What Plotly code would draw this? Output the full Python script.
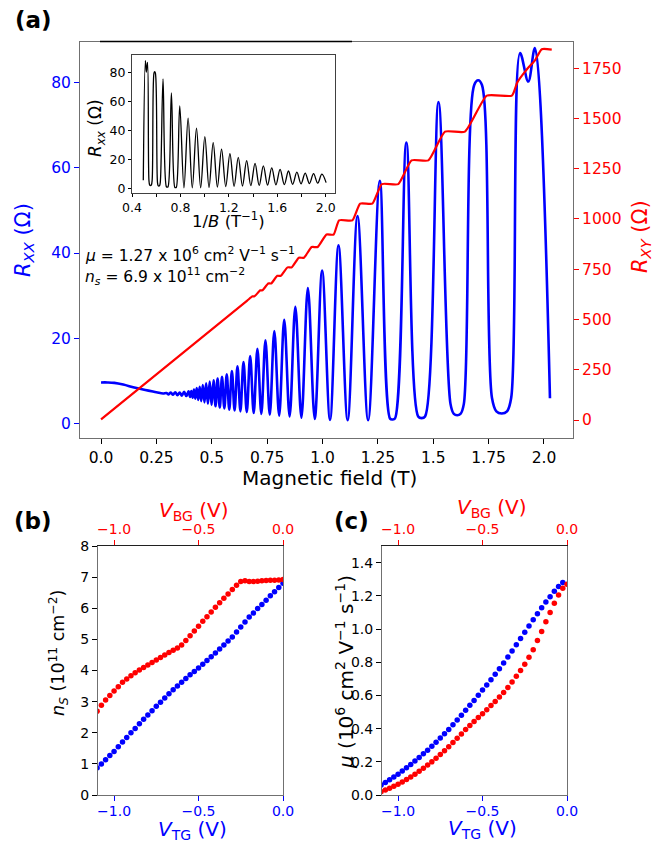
import plotly.graph_objects as go

# ---------------- data ----------------
# (a) longitudinal resistance R_xx vs magnetic field
B_xx = [0.000, 0.030, 0.060, 0.100, 0.150, 0.200, 0.250, 0.280,
        0.295, 0.305, 0.315, 0.325, 0.335, 0.345, 0.355, 0.365, 0.375, 0.385, 0.395,
        0.402, 0.4077, 0.4136, 0.4196, 0.4257, 0.432, 0.4386, 0.4454, 0.4523, 0.4595,
        0.467, 0.4746, 0.4825, 0.4907, 0.4991, 0.508, 0.517, 0.5264, 0.536, 0.5462,
        0.5567, 0.5676, 0.579, 0.5908, 0.603, 0.616, 0.6293, 0.6433, 0.658, 0.6733,
        0.6893, 0.706, 0.7238, 0.7423, 0.7618, 0.7824, 0.8042, 0.8271, 0.8515, 0.8773,
        0.9047, 0.9339, 0.965, 0.9983, 1.034, 1.0722, 1.1135, 1.158, 1.206, 1.2587,
        1.305, 1.316, 1.327, 1.3786, 1.432, 1.4475, 1.463, 1.5237,
        1.578, 1.593, 1.608, 1.623, 1.638, 1.685, 1.703, 1.720,
        1.765, 1.785, 1.809, 1.833, 1.852,
        1.892, 1.929, 1.959, 2.027]
R_xx = [9.6, 9.6, 9.5, 9.1, 8.4, 7.8, 7.3, 7.0,
        7.1, 6.8, 7.2, 6.7, 7.3, 6.6, 7.2, 6.5, 7.4, 6.4, 7.5,
        6.2, 7.6, 6.0, 7.9, 5.8, 8.3, 5.5, 8.6, 5.2, 9.0,
        4.9, 9.4, 4.6, 9.8, 4.3, 10.1, 4.0, 10.5, 3.7, 10.9,
        3.5, 11.5, 3.2, 12.3, 3.0, 13.4, 2.8, 14.4, 2.6, 15.8,
        2.4, 17.5, 2.2, 19.5, 2.0, 21.7, 1.8, 24.3, 1.6, 27.4,
        1.3, 31.8, 1.0, 35.9, 0.8, 41.8, 0.7, 48.7, 0.7, 57.0,
        1.1, 0.9, 1.1, 66.0, 1.6, 1.2, 1.6, 75.5,
        4.5, 2.2, 1.9, 2.2, 4.5, 79.5, 80.6, 79.5,
        6.0, 2.8, 2.3, 2.8, 6.0,
        87.0, 80.3, 88.2, 5.9]

# (a) Hall resistance R_xy vs magnetic field
B_xy = [0.0, 0.66, 0.684, 0.693, 0.719, 0.729, 0.755, 0.768, 0.796, 0.812, 0.842, 0.861,
        0.893, 0.916, 0.951, 0.978, 1.018, 1.050, 1.075, 1.135, 1.170, 1.225, 1.268, 1.342,
        1.402, 1.478, 1.553, 1.643, 1.742, 1.855, 1.880, 1.920, 1.960, 1.990, 2.035]
R_xy = [3, 594, 615, 615, 645, 645, 679, 679, 717, 717, 759, 759,
        807, 807, 860, 860, 922, 922, 993, 993, 1076, 1076, 1173, 1173,
        1291, 1291, 1434, 1434, 1613, 1613, 1680, 1740, 1790, 1844, 1842]

# (b), (c) gate voltage grid
V = [-1.100, -1.075, -1.050, -1.025, -1.000, -0.975, -0.950, -0.925, -0.900, -0.875,
     -0.850, -0.825, -0.800, -0.775, -0.750, -0.725, -0.700, -0.675, -0.650, -0.625,
     -0.600, -0.575, -0.550, -0.525, -0.500, -0.475, -0.450, -0.425, -0.400, -0.375,
     -0.350, -0.325, -0.300, -0.275, -0.250, -0.225, -0.200, -0.175, -0.150, -0.125,
     -0.100, -0.075, -0.050, -0.025, 0.000]

# (b) carrier density (1e11 cm^-2)
ns_tg = [0.87, 1.00, 1.13, 1.27, 1.40, 1.55, 1.70, 1.85, 2.00, 2.14,
         2.29, 2.43, 2.57, 2.71, 2.85, 2.98, 3.12, 3.25, 3.38, 3.50,
         3.62, 3.74, 3.86, 3.97, 4.08, 4.20, 4.32, 4.44, 4.56, 4.69,
         4.82, 4.95, 5.08, 5.24, 5.40, 5.56, 5.72, 5.85, 5.99, 6.12,
         6.26, 6.40, 6.53, 6.67, 6.80]
ns_bg = [2.69, 2.88, 3.05, 3.20, 3.34, 3.48, 3.62, 3.73, 3.83, 3.93,
         4.02, 4.10, 4.18, 4.26, 4.34, 4.42, 4.50, 4.58, 4.65, 4.72,
         4.82, 4.96, 5.12, 5.27, 5.42, 5.58, 5.73, 5.88, 6.03, 6.18,
         6.32, 6.46, 6.60, 6.74, 6.86, 6.88, 6.86, 6.86, 6.87, 6.88,
         6.89, 6.90, 6.90, 6.91, 6.92]

# (c) mobility (1e6 cm^2 V^-1 s^-1)
mu_tg = [0.060, 0.076, 0.092, 0.108, 0.125, 0.144, 0.164, 0.184, 0.205, 0.226,
         0.248, 0.270, 0.293, 0.318, 0.343, 0.369, 0.395, 0.423, 0.452, 0.481,
         0.510, 0.540, 0.570, 0.601, 0.632, 0.663, 0.695, 0.727, 0.760, 0.795,
         0.831, 0.868, 0.905, 0.943, 0.980, 1.018, 1.055, 1.092, 1.128, 1.163,
         1.195, 1.228, 1.256, 1.280]
mu_bg = [0.020, 0.030, 0.041, 0.053, 0.065, 0.079, 0.094, 0.109, 0.125, 0.143,
         0.161, 0.180, 0.200, 0.222, 0.244, 0.267, 0.290, 0.316, 0.342, 0.368,
         0.395, 0.419, 0.443, 0.467, 0.490, 0.514, 0.539, 0.564, 0.590, 0.618,
         0.648, 0.680, 0.715, 0.750, 0.788, 0.830, 0.875, 0.930, 0.985, 1.043,
         1.100, 1.155, 1.205, 1.245, 1.270]

main_x_ticks = [0.0, 0.25, 0.5, 0.75, 1.0, 1.25, 1.5, 1.75, 2.0]
main_x_text = ["0.0", "0.25", "0.5", "0.75", "1.0", "1.25", "1.5", "1.75", "2.0"]
rxx_ticks = [0, 20, 40, 60, 80]
rxy_ticks = [0, 250, 500, 750, 1000, 1250, 1500, 1750]
inset_x_ticks = [0.4, 0.8, 1.2, 1.6, 2.0]
inset_x_text = ["0.4", "0.8", "1.2", "1.6", "2.0"]
inset_x_minor = [0.6, 1.0, 1.4, 1.8]
gate_ticks = [-1.0, -0.5, 0.0]
gate_text = ["\u22121.0", "\u22120.5", "0.0"]
ns_ticks = [0, 1, 2, 3, 4, 5, 6, 7, 8]
mu_ticks = [0.0, 0.2, 0.4, 0.6, 0.8, 1.0, 1.2, 1.4]
mu_text = ["0.0", "0.2", "0.4", "0.6", "0.8", "1.0", "1.2", "1.4"]

# ---------------- figure ----------------
# the page body has an 8 px margin, so the figure starts at (8, 8) of the window
OFF = 8
W, H = 670 - OFF, 842 - OFF
FONT = "DejaVu Sans"
BLUE = "#0000ff"
RED = "#ff0000"
SPINE = "#707070"


def px(x):
    return (x - OFF) / W


def py(y):
    return 1 - (y - OFF) / H


inv_B = [1.0 / b for b, r in zip(B_xx, R_xx) if b >= 0.495]
inv_R = [r for b, r in zip(B_xx, R_xx) if b >= 0.495]

fig = go.Figure()
fig.add_trace(go.Scatter(x=B_xx, y=R_xx, mode="lines", xaxis="x", yaxis="y",
                         line=dict(color=BLUE, width=2.6, shape="spline", smoothing=1.0)))
fig.add_trace(go.Scatter(x=B_xy, y=R_xy, mode="lines", xaxis="x", yaxis="y2",
                         line=dict(color=RED, width=2.2, shape="spline", smoothing=0.5)))
fig.add_trace(go.Scatter(x=inv_B, y=inv_R, mode="lines", xaxis="x3", yaxis="y3",
                         line=dict(color="black", width=1.3, shape="spline", smoothing=1.0)))
fig.add_trace(go.Scatter(x=V, y=ns_tg, mode="markers", xaxis="x4", yaxis="y4",
                         marker=dict(color=BLUE, size=5.5)))
fig.add_trace(go.Scatter(x=V, y=ns_bg, mode="markers", xaxis="x5", yaxis="y4",
                         marker=dict(color=RED, size=5.5)))
fig.add_trace(go.Scatter(x=V[:len(mu_tg)], y=mu_tg, mode="markers", xaxis="x6", yaxis="y6",
                         marker=dict(color=BLUE, size=5.5)))
fig.add_trace(go.Scatter(x=V, y=mu_bg, mode="markers", xaxis="x7", yaxis="y6",
                         marker=dict(color=RED, size=5.5)))

common = dict(showgrid=False, zeroline=False, showline=True, ticks="outside",
              ticklen=5, tickwidth=1.2, automargin=False)
inset_common = dict(common, ticklen=3)
bottom_common = dict(common, ticklabelstandoff=-2)

main_dom_x = [px(80), px(573)]
main_dom_y = [py(438), py(42)]
inset_dom_x = [px(132), px(335)]
inset_dom_y = [py(193), py(55)]
b_dom_x = [px(98), px(283)]
c_dom_x = [px(382), px(567)]
bc_dom_y = [py(795), py(546)]

layout = dict(
    width=W, height=H,
    margin=dict(l=0, r=0, t=0, b=0, pad=0, autoexpand=False),
    paper_bgcolor="white", plot_bgcolor="white", showlegend=False,
    font=dict(family=FONT, color="black"),
    xaxis=dict(domain=main_dom_x, range=[-0.095, 2.131], anchor="y",
               tickvals=main_x_ticks, ticktext=main_x_text, mirror=True,
               linecolor=SPINE, tickcolor="black", tickfont=dict(size=15.5), **common),
    yaxis=dict(domain=main_dom_y, range=[-3.46, 89.6], anchor="x",
               tickvals=rxx_ticks, linecolor=SPINE, tickcolor=BLUE,
               tickfont=dict(size=15.5, color=BLUE), **common),
    yaxis2=dict(overlaying="y", side="right", anchor="x", range=[-89.5, 1879.7],
                tickvals=rxy_ticks, linecolor=SPINE, tickcolor=RED,
                tickfont=dict(size=15.5, color=RED), **common),
    xaxis3=dict(domain=inset_dom_x, range=[0.40, 2.077], anchor="y3",
                tickvals=inset_x_ticks, ticktext=inset_x_text, mirror=True,
                minor=dict(tickvals=inset_x_minor, ticks="outside", ticklen=2.5,
                           tickcolor="black", tickwidth=1),
                linecolor="#404040", tickcolor="black", tickfont=dict(size=12.5),
                **inset_common),
    yaxis3=dict(domain=inset_dom_y, range=[-2.8, 92], anchor="x3",
                tickvals=rxx_ticks, mirror=True, linecolor="#404040",
                tickcolor="black", tickfont=dict(size=12.5), **inset_common),
    xaxis4=dict(domain=b_dom_x, range=[-1.095, 0.0], anchor="y4",
                tickvals=gate_ticks, ticktext=gate_text, linecolor=SPINE,
                tickcolor=BLUE, tickfont=dict(size=14, color=BLUE), **bottom_common),
    xaxis5=dict(overlaying="x4", side="top", anchor="y4", range=[-1.095, 0.0],
                tickvals=gate_ticks, ticktext=gate_text, linecolor="#202020",
                tickcolor=RED, tickfont=dict(size=14, color=RED), **common),
    yaxis4=dict(domain=bc_dom_y, range=[0, 8], anchor="x4", tickvals=ns_ticks,
                mirror=True, linecolor=SPINE, tickcolor="black",
                tickfont=dict(size=14), **common),
    xaxis6=dict(domain=c_dom_x, range=[-1.095, 0.0], anchor="y6",
                tickvals=gate_ticks, ticktext=gate_text, linecolor=SPINE,
                tickcolor=BLUE, tickfont=dict(size=14, color=BLUE), **bottom_common),
    xaxis7=dict(overlaying="x6", side="top", anchor="y6", range=[-1.095, 0.0],
                tickvals=gate_ticks, ticktext=gate_text, linecolor="#202020",
                tickcolor=RED, tickfont=dict(size=14, color=RED), **common),
    yaxis6=dict(domain=bc_dom_y, range=[0, 1.5], anchor="x6", tickvals=mu_ticks,
                ticktext=mu_text, mirror=True, linecolor=SPINE, tickcolor="black",
                tickfont=dict(size=14), **common),
)
fig.update_layout(**layout)


def note(x, y, text, size, color="black", angle=0, xanchor="center", bold=False):
    fig.add_annotation(x=px(x), y=py(y), xref="paper", yref="paper", text=text,
                       showarrow=False, textangle=angle, xanchor=xanchor,
                       yanchor="middle",
                       font=dict(family=FONT, size=size, color=color,
                                 weight="bold" if bold else "normal"))


M = "\u2212"
note(33, 20, "(a)", 23, bold=True)
note(33, 521, "(b)", 23, bold=True)
note(351, 521, "(c)", 23, bold=True)

note(83, 255, f"<i>μ</i> = 1.27 x 10<sup>6</sup> cm<sup>2</sup> V<sup>{M}1</sup> s<sup>{M}1</sup>",
     15.5, xanchor="left")
note(83, 276, f"<i>n<sub>s</sub></i> = 6.9 x 10<sup>11</sup> cm<sup>{M}2</sup>",
     15.5, xanchor="left")

note(24, 240, "<i>R</i><sub><i>XX</i></sub> (Ω)", 21, BLUE, angle=-90)
note(641, 237, "<i>R</i><sub><i>XY</i></sub> (Ω)", 21, RED, angle=-90)
note(329, 478, "Magnetic field (T)", 20)

note(96, 128, "<i>R</i><sub><i>xx</i></sub> (Ω)", 17, angle=-90)
note(228, 220, f"1/<i>B</i> (T<sup>{M}1</sup>)", 16.5)

note(194, 511, "<i>V</i><sub>BG</sub> (V)", 20, RED)
note(192, 830, "<i>V</i><sub>TG</sub> (V)", 20, BLUE)
note(58, 653, f"<i>n<sub>S</sub></i> (10<sup>11</sup> cm<sup>{M}2</sup>)", 17.5, angle=-90)

note(492, 508, "<i>V</i><sub>BG</sub> (V)", 20, RED)
note(482, 829, "<i>V</i><sub>TG</sub> (V)", 20, BLUE)
note(345, 672, f"<i>μ</i> (10<sup>6</sup> cm<sup>2</sup> V<sup>{M}1</sup> s<sup>{M}1</sup>)",
     20, angle=-90)

# dark segment along the top edge of panel (a)
fig.add_shape(type="line", xref="paper", yref="paper", x0=px(100), x1=px(352),
              y0=py(41.5), y1=py(41.5), line=dict(color="black", width=1.5))

fig.write_html("out.html")
